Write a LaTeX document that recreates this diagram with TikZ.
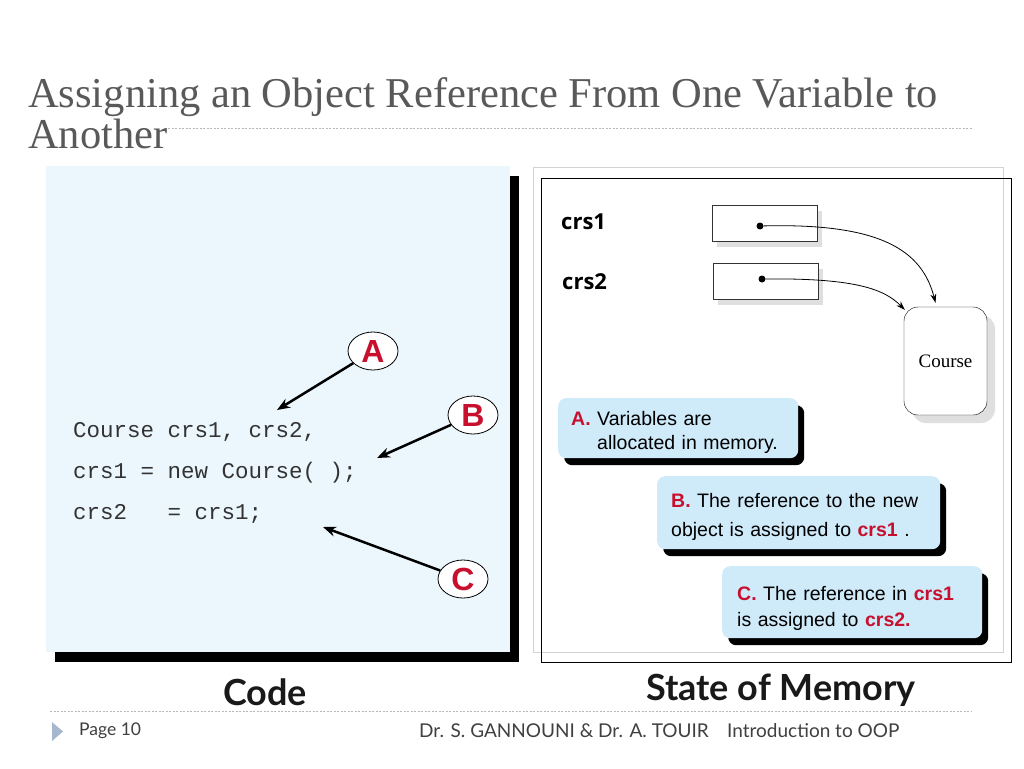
\documentclass[tikz,border=0pt]{standalone}
\usepackage{fontspec}
\setmainfont{Liberation Serif}
\setsansfont{Liberation Sans}
\setmonofont{Liberation Mono}
\newfontfamily\gillfont{Lato}
\newfontfamily\handfont{Open Sans}
\usepackage{xcolor}
\usetikzlibrary{positioning,arrows.meta,shapes.geometric,shadows}

\definecolor{titlegray}{HTML}{595959}
\definecolor{panelblue}{HTML}{EBF7FD}
\definecolor{calloutblue}{HTML}{CFEAF9}
\definecolor{tagred}{HTML}{C8102E}
\definecolor{codegray}{HTML}{333333}
\definecolor{rulegray}{HTML}{B8B8B8}
\definecolor{markblue}{HTML}{A5B8CF}
\newcommand{\redtag}[1]{\textcolor{tagred}{\textbf{#1}}}

\tikzset{
  callout/.style={fill=calloutblue, rounded corners=8pt, anchor=north west, align=left, inner xsep=14pt, inner ysep=0pt,
    drop shadow={shadow xshift=6pt, shadow yshift=-7pt, fill=black, opacity=1}},
  letter/.style={ellipse, draw, thick, fill=white, minimum width=50pt, minimum height=38pt, inner sep=0pt,
    text=tagred, font=\sffamily\bfseries\fontsize{32}{32}\selectfont},
  varbox/.style={draw=black!80, fill=white, minimum width=105pt, minimum height=36pt, anchor=north west,
    drop shadow={shadow xshift=5pt, shadow yshift=-6pt, fill=gray!25, opacity=1}},
  codeline/.style={anchor=base west, inner sep=0pt, text=codegray, font=\ttfamily\fontsize{22.5}{22.5}\selectfont},
  varname/.style={anchor=west, inner sep=0pt, font=\handfont\bfseries\fontsize{22}{22}\selectfont},
  pointer/.style={-{Stealth[length=13pt,width=10pt]}, line width=2.5pt},
  link/.style={-{Stealth[length=9pt,width=6pt]}, thick},
  footer/.style={anchor=west, inner sep=0pt, text=black!75}
}

\begin{document}
\begin{tikzpicture}[x=1pt, y=-1pt]
    \useasboundingbox[fill=white] (0,0) rectangle (1024,768);

    % title
    \node[anchor=base west, inner sep=0pt, text=titlegray, font=\fontsize{42.5}{44}\selectfont] (title1) at (28,107)
        {Assigning an Object Reference From One Variable to};
    \node[anchor=base west, inner sep=0pt, text=titlegray, font=\fontsize{42.5}{44}\selectfont] (title2) at (28,148) {Another};
    \draw[rulegray, dash pattern=on 2pt off 1.5pt] (168,128) -- (972,128);

    % code side
    \node[fill=panelblue, minimum width=464pt, minimum height=486pt, anchor=north west,
        drop shadow={shadow xshift=9pt, shadow yshift=-10pt, fill=black, opacity=1}] (codepanel) at (46,166) {};
    \node[codeline] (code1) at (73,437) {Course crs1, crs2,};
    \node[codeline] (code2) at (73,478) {crs1 = new Course( );};
    \node[codeline] (code3) at (73,519) {crs2~~~= crs1;};

    \node[letter] (tagA) at (373,351) {A};
    \node[letter] (tagB) at (473,415) {B};
    \node[letter] (tagC) at (463,579) {C};
    \coordinate (tipA) at (277,410);
    \coordinate (tipB) at (377,458);
    \coordinate (tipC) at (323,527);
    \draw[pointer] (tagA) -- (tipA);
    \draw[pointer] (tagB) -- (tipB);
    \draw[pointer] (tagC) -- (tipC);

    % memory side
    \node[draw=gray!35, minimum width=470pt, minimum height=485pt, anchor=north west] (memback) at (533,167) {};
    \node[draw, minimum width=470pt, minimum height=484pt, anchor=north west] (memframe) at (541,178) {};

    \node[varname] (name1) at (561,222) {crs1};
    \node[varname] (name2) at (562,282) {crs2};
    \node[varbox] (box1) at (712,205) {};
    \node[varbox] (box2) at (713,263) {};
    \node[circle, fill, inner sep=0pt, minimum size=7pt] (dot1) at (760,226) {};
    \node[circle, fill, inner sep=0pt, minimum size=7pt] (dot2) at (762,279) {};

    \node[draw, fill=white, rounded corners=14pt, minimum width=83pt, minimum height=108pt,
        font=\fontsize{19}{19}\selectfont,
        drop shadow={shadow xshift=8pt, shadow yshift=-8pt, fill=gray!25, opacity=1}] (course) at (945.5,361) {Course};

    \draw[link] (dot1) .. controls (880,223) and (922,250) .. ([xshift=-10pt,yshift=4pt]course.north);
    \draw[link] (dot2) .. controls (858,278) and (885,290) .. ([xshift=1pt,yshift=-3pt]course.north west);

    \node[callout, text width=214pt, minimum height=60pt, inner xsep=13pt,
        font=\sffamily\fontsize{19.5}{24}\selectfont] (noteA) at (558,398)
        {\rule{0pt}{22pt}\redtag{A.} Variables are\\\hspace*{26pt}allocated in memory.};
    \node[callout, text width=255pt, minimum height=73pt,
        font=\sffamily\fontsize{19.5}{29}\selectfont] (noteB) at (657,476)
        {\rule{0pt}{23pt}\redtag{B.} The reference to the new\\object is assigned to \redtag{crs1}~.};
    \node[callout, text width=230pt, minimum height=72pt, inner xsep=15pt,
        font=\sffamily\fontsize{19.5}{26}\selectfont] (noteC) at (722,566)
        {\rule{0pt}{26pt}\redtag{C.} The reference in \redtag{crs1}\\is assigned to \redtag{crs2.}};

    % captions and footer
    \node[font=\gillfont\bfseries\fontsize{36}{36}\selectfont, text=black!90] (codecap) at (265,692) {Code};
    \node[font=\gillfont\bfseries\fontsize{36}{36}\selectfont, text=black!90] (memcap) at (781,690) {State of Memory};
    \draw[rulegray, dash pattern=on 2pt off 1.5pt] (50,711) -- (972,711);

    \fill[markblue] (52,722) -- (63,731.5) -- (52,741) -- cycle;
    \node[footer, font=\gillfont\fontsize{17.5}{17.5}\selectfont] (page) at (79,731) {Page 10};
    \node[footer, font=\gillfont\fontsize{19}{19}\selectfont] (authors) at (419,731) {Dr. S. GANNOUNI \& Dr. A. TOUIR};
    \node[footer, font=\gillfont\fontsize{19}{19}\selectfont] (coursename) at (727,731) {Introduction to OOP};
\end{tikzpicture}
\end{document}
